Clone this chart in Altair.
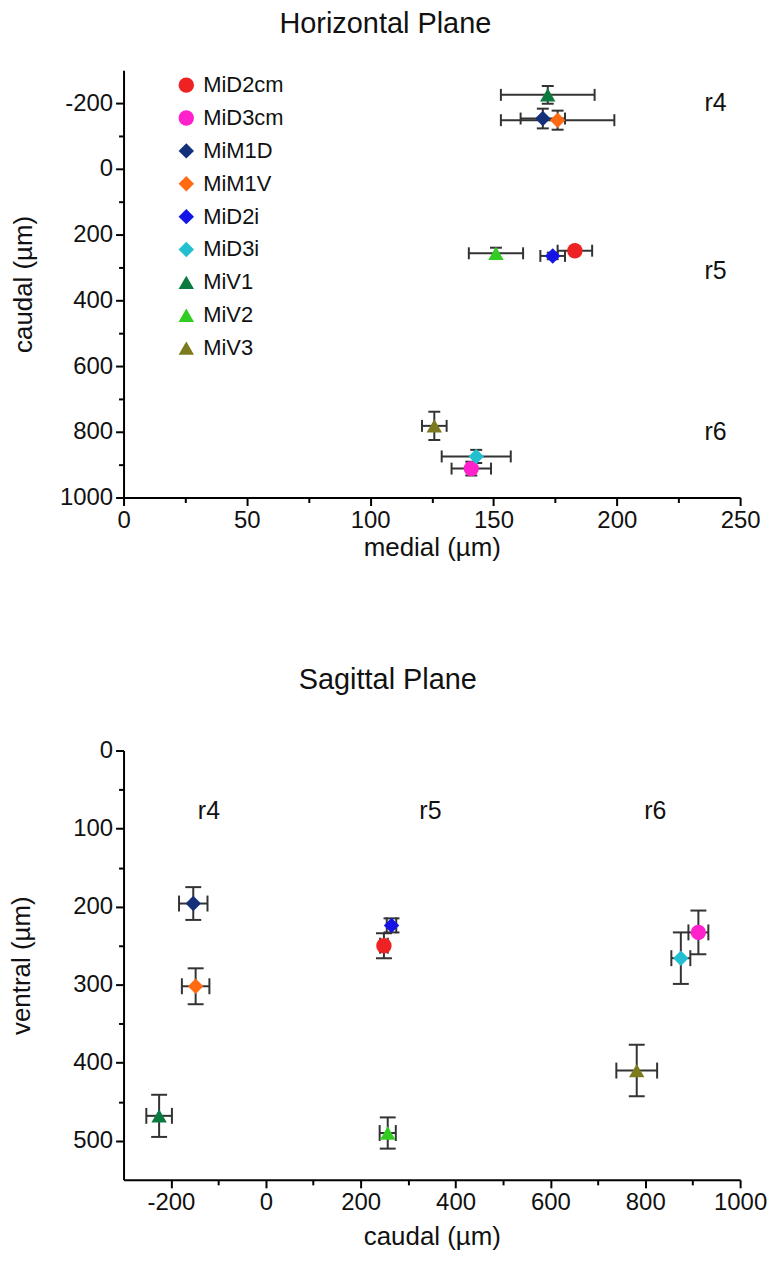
import altair as alt
import pandas as pd

cells = ["MiD2cm", "MiD3cm", "MiM1D", "MiM1V", "MiD2i", "MiD3i", "MiV1", "MiV2", "MiV3"]
colors = ["#ee2222", "#ff22cc", "#14307a", "#ff6a13", "#1414e6", "#22bfd0", "#0b7a3e", "#33cc22", "#7d7a1e"]
shapes = ["circle", "circle", "diamond", "diamond", "diamond", "diamond",
          "triangle-up", "triangle-up", "triangle-up"]
shape_sizes = {"circle": 240, "diamond": 330, "triangle-up": 330}

medial = [183, 141, 170, 176, 174, 143, 172, 151, 126]
medial_err = [7, 8, 9, 23, 5, 14, 19, 11, 5]
caudal = [249, 912, -153, -148, 265, 875, -225, 257, 782]
caudal_err = [8, 21, 30, 29, 10, 20, 27, 17, 43]
ventral = [250, 233, 196, 302, 224, 266, 468, 490, 410]
ventral_err = [16, 28, 21, 23, 9, 33, 27, 20, 33]

region_labels = ["r4", "r5", "r6"]
h_label_medial = [240, 240, 240]
h_label_caudal = [-200, 310, 800]
s_label_caudal = [-120, 347, 821]
s_label_ventral = [77, 77, 77]

FONT = "Liberation Sans"
EC = "#333333"
TXT = "#111111"

df = pd.DataFrame({
    "cell": cells,
    "medial": medial, "medial_err": medial_err,
    "caudal": caudal, "caudal_err": caudal_err,
    "ventral": ventral, "ventral_err": ventral_err,
})
for f in ["medial", "caudal", "ventral"]:
    df[f + "_lo"] = df[f] - df[f + "_err"]
    df[f + "_hi"] = df[f] + df[f + "_err"]

color_scale = alt.Scale(domain=cells, range=colors)
shape_scale = alt.Scale(domain=cells, range=shapes)
size_scale = alt.Scale(domain=cells, range=[shape_sizes[s] for s in shapes])


def make_axis(title, values, major, title_pad):
    return alt.Axis(
        title=title,
        values=values,
        labelExpr=f"datum.value % {major} === 0 ? '' + datum.value : ''",
        tickSize={"condition": {"test": f"datum.value % {major} === 0", "value": 8}, "value": 5},
        tickWidth=2, tickColor="black",
        domainColor="black", domainWidth=2,
        labelFont=FONT, labelFontSize=24, labelColor=TXT, labelPadding=3,
        labelOverlap=False, labelFlush=False,
        titleFont=FONT, titleFontSize=26, titleFontWeight="normal", titleColor=TXT,
        titlePadding=title_pad, grid=False,
    )


def panel(xf, yf, xdom, ydom, xaxis, yaxis, w, h, title, title_offset, lab_df, cap, show_legend):
    xs = alt.Scale(domain=xdom, nice=False, zero=False)
    ys = alt.Scale(domain=ydom, reverse=True, nice=False, zero=False)

    def X(f):
        return alt.X(f"{f}:Q", scale=xs, axis=xaxis)

    def Y(f):
        return alt.Y(f"{f}:Q", scale=ys, axis=yaxis)

    base = alt.Chart(df)
    tick_style = dict(size=cap, thickness=2, color=EC, opacity=1)
    hbar = base.mark_rule(color=EC, strokeWidth=2).encode(x=X(xf + "_lo"), x2=f"{xf}_hi", y=Y(yf))
    hcap1 = base.mark_tick(orient="vertical", **tick_style).encode(x=X(xf + "_lo"), y=Y(yf))
    hcap2 = base.mark_tick(orient="vertical", **tick_style).encode(x=X(xf + "_hi"), y=Y(yf))
    vbar = base.mark_rule(color=EC, strokeWidth=2).encode(x=X(xf), y=Y(yf + "_lo"), y2=f"{yf}_hi")
    vcap1 = base.mark_tick(orient="horizontal", **tick_style).encode(x=X(xf), y=Y(yf + "_lo"))
    vcap2 = base.mark_tick(orient="horizontal", **tick_style).encode(x=X(xf), y=Y(yf + "_hi"))

    if show_legend:
        leg = alt.Legend(
            title=None, orient="none", legendX=52, legendY=4,
            labelFont=FONT, labelFontSize=22, labelColor=TXT,
            symbolSize=260, rowPadding=11, labelOffset=6, padding=0,
            symbolStrokeWidth=0,
        )
    else:
        leg = None
    pts = base.mark_point(filled=True, opacity=1).encode(
        x=X(xf), y=Y(yf),
        color=alt.Color("cell:N", scale=color_scale, legend=leg),
        shape=alt.Shape("cell:N", scale=shape_scale, legend=leg),
        size=alt.Size("cell:N", scale=size_scale, legend=None),
    )
    txt = alt.Chart(lab_df).mark_text(font=FONT, fontSize=25, color=TXT).encode(
        x=X("lx"), y=Y("ly"), text="t:N"
    )
    return alt.layer(hbar, hcap1, hcap2, vbar, vcap1, vcap2, pts, txt).properties(
        width=w, height=h,
        title=alt.TitleParams(title, font=FONT, fontSize=29, fontWeight="normal", color=TXT,
                              anchor="middle", frame="bounds", offset=title_offset),
    )


lab_h = pd.DataFrame({"t": region_labels, "lx": h_label_medial, "ly": h_label_caudal})
lab_s = pd.DataFrame({"t": region_labels, "lx": s_label_caudal, "ly": s_label_ventral})

top = panel(
    "medial", "caudal", [0, 250], [-300, 1000],
    make_axis("medial (µm)", list(range(0, 251, 25)), 50, 2),
    make_axis("caudal (µm)", list(range(-200, 1001, 100)), 200, 23),
    619, 429, "Horizontal Plane", 31, lab_h, 12, True,
)
bottom = panel(
    "caudal", "ventral", [-300, 1000], [0, 550],
    make_axis("caudal (µm)", list(range(-200, 1001, 100)), 200, 9),
    make_axis("ventral (µm)", list(range(0, 501, 50)), 100, 38),
    619, 431, "Sagittal Plane", 44, lab_s, 16, False,
)

chart = alt.vconcat(top, bottom, spacing=106).resolve_scale(
    x="independent", y="independent", color="independent", shape="independent", size="independent"
).resolve_legend(color="independent", shape="independent").configure_view(stroke=None).properties(
    padding={"left": 0, "top": 0, "right": 5, "bottom": 5}, background="white"
)

chart.save("out.html", embed_options={"renderer": "svg", "actions": False})
